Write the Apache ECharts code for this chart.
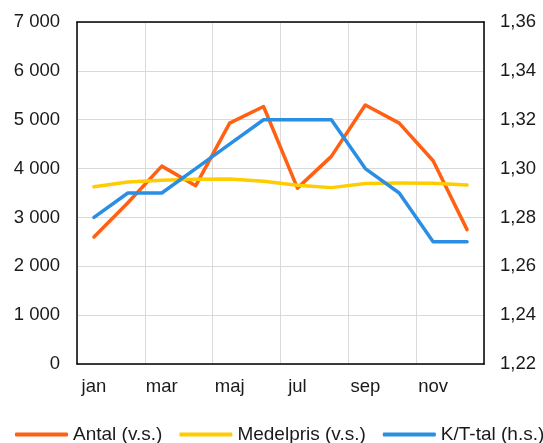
<!DOCTYPE html>
<html>
<head>
<meta charset="utf-8">
<script src="https://cdn.jsdelivr.net/npm/echarts@6/dist/echarts.min.js"></script>
<style>
  html, body { margin: 0; padding: 0; background: #fff; }
  #chart { width: 543px; height: 443px; }
</style>
</head>
<body>
<div id="chart"></div>
<script>
// Monthly figures
const months = ['jan', 'feb', 'mar', 'apr', 'maj', 'jun', 'jul', 'aug', 'sep', 'okt', 'nov', 'dec'];
const antal = [2600, 3300, 4050, 3650, 4930, 5270, 3600, 4250, 5300, 4930, 4160, 2750];
const medelpris = [3630, 3725, 3760, 3780, 3785, 3740, 3660, 3610, 3695, 3705, 3700, 3665];
const ktTal = [1.28, 1.29, 1.29, 1.30, 1.31, 1.32, 1.32, 1.32, 1.30, 1.29, 1.27, 1.27];

const seriesNames = ['Antal (v.s.)', 'Medelpris (v.s.)', 'K/T-tal (h.s.)'];
const colors = ['#ff6012', '#ffcc00', '#2a8fe2'];

const FONT = 'Liberation Sans, Arial, sans-serif';
const TEXT = '#1a1a1a';

const fmtThousands = v => String(Math.round(v)).replace(/\B(?=(\d{3})+(?!\d))/g, ' ');
const fmtDecimal = v => v.toFixed(2).replace('.', ',');

const chart = echarts.init(document.getElementById('chart'), null, { renderer: 'canvas' });

const lineSeries = (name, data, color, yIndex) => ({
  name,
  type: 'line',
  data,
  yAxisIndex: yIndex,
  symbol: 'none',
  smooth: false,
  lineStyle: { color, width: 3.5, cap: 'round', join: 'round' },
  itemStyle: { color },
  emphasis: { disabled: true },
  animation: false
});

chart.setOption({
  animation: false,
  textStyle: { fontFamily: FONT, color: TEXT },
  grid: { left: 77, right: 59, top: 22, bottom: 79, containLabel: false },
  legend: {
    data: seriesNames,
    left: 15,
    top: 425,
    width: 540,
    padding: 0,
    itemWidth: 53,
    itemHeight: 4,
    itemGap: 17,
    icon: 'roundRect',
    textStyle: { fontFamily: FONT, fontSize: 19, color: TEXT },
    selectedMode: false
  },
  xAxis: [
    {
      type: 'category',
      data: months,
      boundaryGap: true,
      axisLine: { show: true, lineStyle: { color: '#000', width: 1.5 } },
      axisTick: { show: false },
      axisLabel: { interval: 1, margin: 13, fontFamily: FONT, fontSize: 18.5, color: TEXT },
      splitLine: { show: true, interval: 1, lineStyle: { color: '#d9d9d9', width: 1 } }
    },
    {
      type: 'category',
      data: months,
      position: 'top',
      axisLine: { show: true, lineStyle: { color: '#000', width: 1.5 } },
      axisTick: { show: false },
      axisLabel: { show: false },
      splitLine: { show: false }
    }
  ],
  yAxis: [
    {
      type: 'value',
      min: 0,
      max: 7000,
      interval: 1000,
      position: 'left',
      axisLine: { show: true, lineStyle: { color: '#000', width: 1.5 } },
      axisTick: { show: false },
      axisLabel: { margin: 17, formatter: fmtThousands, fontFamily: FONT, fontSize: 18.5, color: TEXT },
      splitLine: { show: true, lineStyle: { color: '#d9d9d9', width: 1 } }
    },
    {
      type: 'value',
      min: 1.22,
      max: 1.36,
      interval: 0.02,
      position: 'right',
      axisLine: { show: true, lineStyle: { color: '#000', width: 1.5 } },
      axisTick: { show: false },
      axisLabel: { margin: 16, formatter: fmtDecimal, fontFamily: FONT, fontSize: 18.5, color: TEXT },
      splitLine: { show: false }
    }
  ],
  series: [
    lineSeries(seriesNames[0], antal, colors[0], 0),
    lineSeries(seriesNames[1], medelpris, colors[1], 0),
    lineSeries(seriesNames[2], ktTal, colors[2], 1)
  ]
});
</script>
</body>
</html>
